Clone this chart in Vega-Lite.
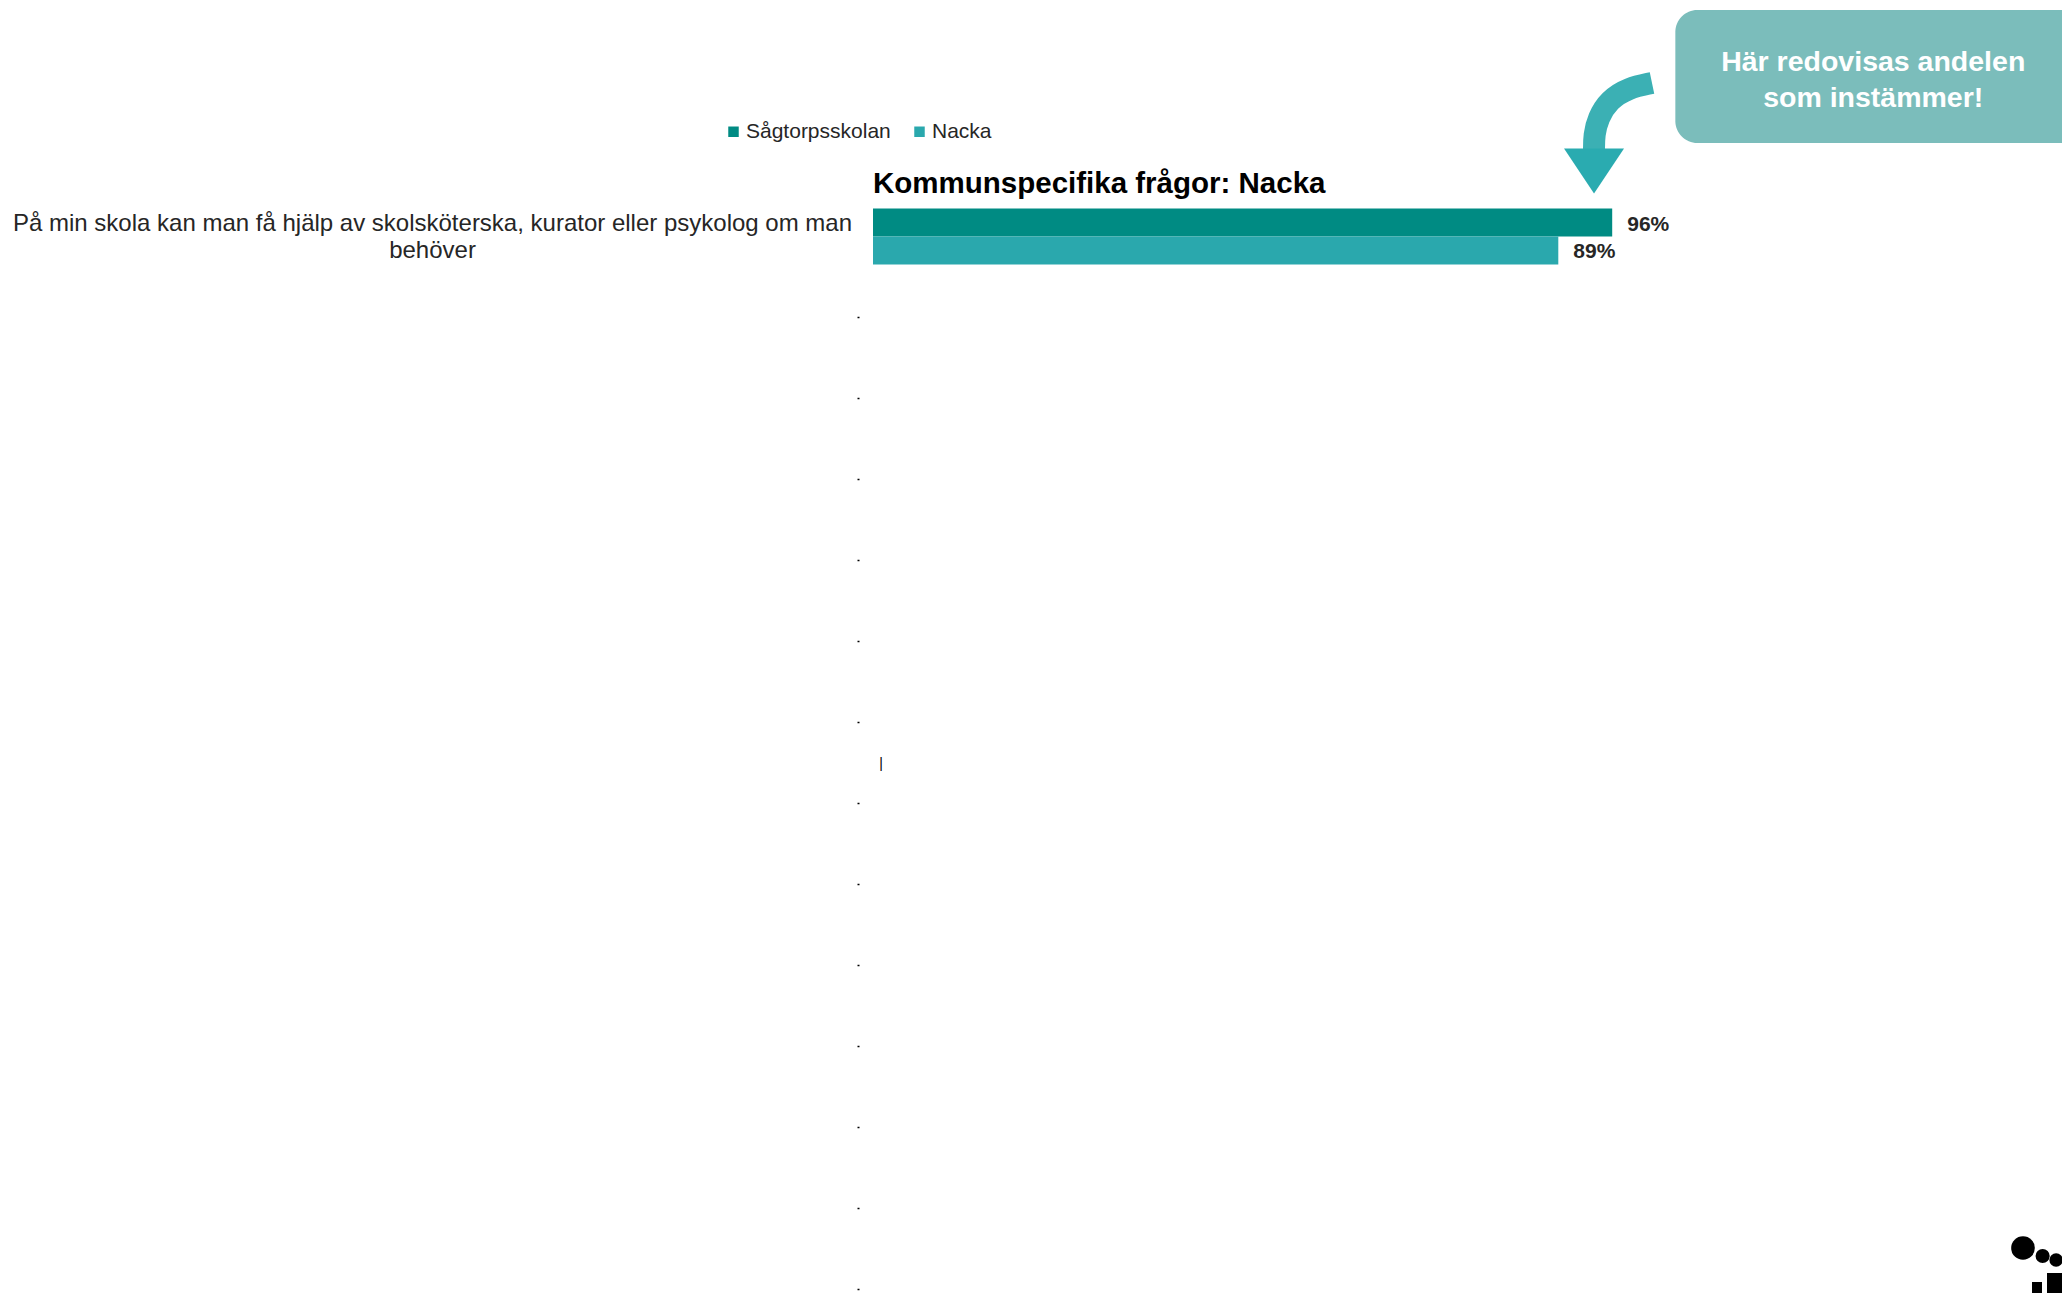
{
  "$schema": "https://vega.github.io/schema/vega-lite/v6.json",
  "width": 770,
  "height": 1097,
  "autosize": "none",
  "padding": {"left": 873, "top": 196, "right": 419, "bottom": 0},
  "background": "#ffffff",
  "config": {
    "font": "Liberation Sans",
    "view": {"stroke": null}
  },
  "layer": [
    {
      "data": {
        "values": [
          {"fraga": "På min skola kan man få hjälp av skolsköterska, kurator eller psykolog om man behöver", "grupp": "Sågtorpsskolan", "andel": 0.96},
          {"fraga": "På min skola kan man få hjälp av skolsköterska, kurator eller psykolog om man behöver", "grupp": "Nacka", "andel": 0.89}
        ]
      },
      "layer": [
        {
          "mark": {"type": "bar"},
          "encoding": {
            "x": {"field": "andel", "type": "quantitative", "scale": {"domain": [0, 1], "nice": false}, "axis": null},
            "y": {
              "field": "fraga",
              "type": "nominal",
              "scale": {
                "domain": ["På min skola kan man få hjälp av skolsköterska, kurator eller psykolog om man behöver", "b1", "b2", "b3", "b4", "b5", "b6", "b7", "b8", "b9", "b10", "b11", "b12", "b13"],
                "range": [0, 1134],
                "paddingInner": 0,
                "paddingOuter": 0
              },
              "axis": {
                "title": null,
                "domain": false,
                "offset": 14,
                "tickSize": 2,
                "tickWidth": 1.5,
                "tickColor": {"condition": {"test": "indexof(datum.value, 'På') == 0", "value": "transparent"}, "value": "#000000"},
                "labelAlign": "center",
                "labelBaseline": "middle",
                "labelPadding": 425,
                "labelOffset": -13,
                "labelFontSize": 24,
                "labelLineHeight": 27,
                "labelColor": "#262626",
                "labelLimit": 0,
                "labelExpr": "indexof(datum.value, 'På') == 0 ? ['På min skola kan man få hjälp av skolsköterska, kurator eller psykolog om man', 'behöver'] : ''"
              }
            },
            "yOffset": {"field": "grupp", "type": "nominal", "scale": {"domain": ["Sågtorpsskolan", "Nacka"], "paddingInner": 0, "paddingOuter": 0.45}},
            "color": {
              "field": "grupp",
              "type": "nominal",
              "scale": {"domain": ["Sågtorpsskolan", "Nacka"], "range": ["#008b83", "#2aa8ad"]},
              "legend": {
                "orient": "none",
                "legendX": -150,
                "legendY": -75,
                "direction": "horizontal",
                "title": null,
                "symbolType": "square",
                "symbolSize": 110,
                "symbolStrokeWidth": 0,
                "labelFontSize": 21,
                "labelColor": "#262626",
                "labelOffset": 2,
                "columnPadding": 18
              }
            }
          }
        },
        {
          "mark": {"type": "text", "align": "left", "baseline": "middle", "dx": 15, "dy": 2, "fontSize": 21, "fontWeight": "bold", "color": "#262626"},
          "encoding": {
            "x": {"field": "andel", "type": "quantitative", "scale": {"domain": [0, 1], "nice": false}, "axis": null},
            "y": {
              "field": "fraga",
              "type": "nominal",
              "scale": {
                "domain": ["På min skola kan man få hjälp av skolsköterska, kurator eller psykolog om man behöver", "b1", "b2", "b3", "b4", "b5", "b6", "b7", "b8", "b9", "b10", "b11", "b12", "b13"],
                "range": [0, 1134],
                "paddingInner": 0,
                "paddingOuter": 0
              }
            },
            "yOffset": {"field": "grupp", "type": "nominal", "scale": {"domain": ["Sågtorpsskolan", "Nacka"], "paddingInner": 0, "paddingOuter": 0.45}},
            "text": {"field": "andel", "type": "quantitative", "format": ".0%"}
          }
        }
      ]
    },
    {
      "layer": [
        {
          "data": {"values": [{}]},
          "mark": {"type": "text", "align": "left", "baseline": "alphabetic", "fontSize": 29.5, "fontWeight": "bold", "color": "#000000"},
          "encoding": {
            "x": {"datum": 0, "type": "quantitative", "scale": {"domain": [0, 1], "nice": false}, "axis": null},
            "y": {"datum": -3, "type": "quantitative", "scale": {"domain": [0, 1097], "reverse": true, "nice": false, "zero": false}, "axis": null},
            "text": {"value": "Kommunspecifika frågor: Nacka"}
          }
        },
        {
          "data": {"values": [{}]},
          "mark": {"type": "text", "align": "center", "baseline": "middle", "fontSize": 14, "color": "#000000"},
          "encoding": {
            "x": {"datum": 0.0104, "type": "quantitative", "scale": {"domain": [0, 1], "nice": false}, "axis": null},
            "y": {"datum": 568, "type": "quantitative", "scale": {"domain": [0, 1097], "reverse": true, "nice": false, "zero": false}, "axis": null},
            "text": {"value": "|"}
          }
        },
        {
          "data": {"values": [{}]},
          "mark": {"type": "rect", "color": "#7bbdbb", "cornerRadius": 22},
          "encoding": {
            "x": {"datum": 1.042, "type": "quantitative", "scale": {"domain": [0, 1], "nice": false}, "axis": null},
            "x2": {"datum": 1.62},
            "y": {"datum": -186, "type": "quantitative", "scale": {"domain": [0, 1097], "reverse": true, "nice": false, "zero": false}, "axis": null},
            "y2": {"datum": -53}
          }
        },
        {
          "data": {"values": [{}]},
          "mark": {"type": "text", "align": "center", "baseline": "middle", "fontSize": 28.5, "fontWeight": "bold", "color": "#ffffff", "lineHeight": 36},
          "encoding": {
            "x": {"datum": 1.299, "type": "quantitative", "scale": {"domain": [0, 1], "nice": false}, "axis": null},
            "y": {"datum": -134, "type": "quantitative", "scale": {"domain": [0, 1097], "reverse": true, "nice": false, "zero": false}, "axis": null},
            "text": {"value": ["Här redovisas andelen", "som instämmer!"]}
          }
        },
        {
          "data": {
            "values": [
              {"i": 1, "px": 1.0117, "py": -113},
              {"i": 2, "px": 0.9805, "py": -108},
              {"i": 3, "px": 0.9558, "py": -96},
              {"i": 4, "px": 0.9416, "py": -78},
              {"i": 5, "px": 0.9364, "py": -61},
              {"i": 6, "px": 0.9364, "py": -46}
            ]
          },
          "mark": {"type": "line", "color": "#3bb0b4", "strokeWidth": 22, "strokeCap": "butt", "interpolate": "basis"},
          "encoding": {
            "x": {"field": "px", "type": "quantitative", "scale": {"domain": [0, 1], "nice": false}, "axis": null},
            "y": {"field": "py", "type": "quantitative", "scale": {"domain": [0, 1097], "reverse": true, "nice": false, "zero": false}, "axis": null},
            "order": {"field": "i", "type": "quantitative"}
          }
        },
        {
          "data": {"values": [{}]},
          "mark": {"type": "point", "shape": "M-1,-0.75L1,-0.75L0,0.75Z", "filled": true, "opacity": 1, "color": "#2aabb0", "size": 3600, "strokeWidth": 0},
          "encoding": {
            "x": {"datum": 0.9364, "type": "quantitative", "scale": {"domain": [0, 1], "nice": false}, "axis": null},
            "y": {"datum": -25, "type": "quantitative", "scale": {"domain": [0, 1097], "reverse": true, "nice": false, "zero": false}, "axis": null}
          }
        },
        {
          "data": {
            "values": [
              {"lx": 1.4935, "ly": 1052, "s": 560},
              {"lx": 1.519, "ly": 1060, "s": 200},
              {"lx": 1.5365, "ly": 1064, "s": 180}
            ]
          },
          "mark": {"type": "point", "shape": "circle", "filled": true, "opacity": 1, "color": "#000000", "strokeWidth": 0},
          "encoding": {
            "x": {"field": "lx", "type": "quantitative", "scale": {"domain": [0, 1], "nice": false}, "axis": null},
            "y": {"field": "ly", "type": "quantitative", "scale": {"domain": [0, 1097], "reverse": true, "nice": false, "zero": false}, "axis": null},
            "size": {"field": "s", "type": "quantitative", "scale": null, "legend": null}
          }
        },
        {
          "data": {
            "values": [
              {"a": 1.5052, "b": 1.5182, "c": 1086, "d": 1097},
              {"a": 1.5247, "b": 1.5442, "c": 1077, "d": 1097}
            ]
          },
          "mark": {"type": "rect", "color": "#000000"},
          "encoding": {
            "x": {"field": "a", "type": "quantitative", "scale": {"domain": [0, 1], "nice": false}, "axis": null},
            "x2": {"field": "b"},
            "y": {"field": "c", "type": "quantitative", "scale": {"domain": [0, 1097], "reverse": true, "nice": false, "zero": false}, "axis": null},
            "y2": {"field": "d"}
          }
        }
      ]
    }
  ],
  "resolve": {"scale": {"y": "independent"}, "axis": {"y": "independent"}}
}
